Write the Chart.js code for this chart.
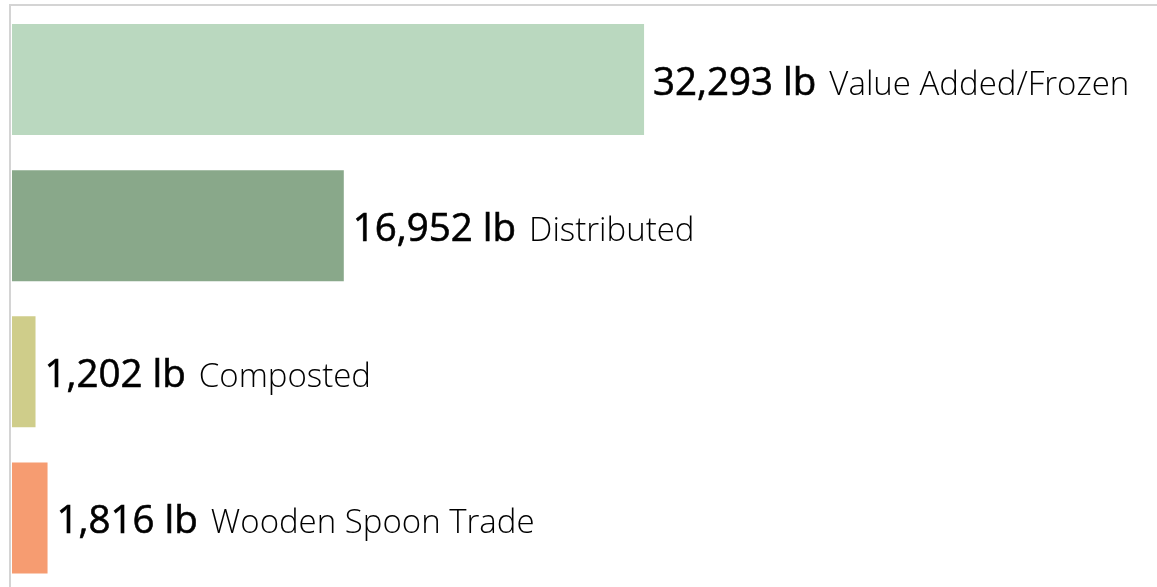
<!DOCTYPE html>
<html>
<head>
<meta charset="utf-8">
<script src="https://cdn.jsdelivr.net/npm/chart.js@4"></script>
<style>
    html, body { margin: 0; padding: 0; background: #fff; overflow: hidden; }
    #wrap { position: relative; width: 1157px; height: 591px; }
</style>
</head>
<body>
<div id="wrap"><canvas id="wasteChart"></canvas></div>
<script>
// Data hasil panen (lb)
const categories = ['Value Added/Frozen', 'Distributed', 'Composted', 'Wooden Spoon Trade'];
const pounds = [32293, 16952, 1202, 1816];
const barColors = ['#bad8bf', '#89a88a', '#cfcd8a', '#f69c71'];

// Garis tepi atas & kiri (gaya Tableau)
const framePlugin = {
    id: 'frame',
    beforeDatasetsDraw(chart) {
        const { ctx, chartArea } = chart;
        ctx.save();
        ctx.strokeStyle = '#d4d4d4';
        ctx.lineWidth = 2;
        ctx.beginPath();
        ctx.moveTo(chartArea.left - 3, chartArea.top - 1.5);
        ctx.lineTo(chart.width, chartArea.top - 1.5);
        ctx.moveTo(chartArea.left - 2, chartArea.top - 2.5);
        ctx.lineTo(chartArea.left - 2, chart.height);
        ctx.stroke();
        ctx.restore();
    }
};

// Label nilai + nama kategori di ujung bar
const labelPlugin = {
    id: 'barLabels',
    afterDatasetsDraw(chart) {
        const { ctx } = chart;
        const meta = chart.getDatasetMeta(0);
        ctx.save();
        ctx.textBaseline = 'alphabetic';
        ctx.textAlign = 'left';
        ctx.fillStyle = '#000';
        ctx.strokeStyle = '#000';
        ctx.lineWidth = 0.6;
        meta.data.forEach((bar, i) => {
            const numText = pounds[i].toLocaleString('en-US') + ' lb';
            const x = bar.x + 9;
            const y = bar.y + 15;
            // angka: regular + sedikit stroke supaya tampak "medium"
            ctx.font = '400 38.5px "Open Sans"';
            ctx.fillText(numText, x, y);
            ctx.strokeText(numText, x, y);
            const w = ctx.measureText(numText).width;
            ctx.font = '300 33px "Open Sans"';
            ctx.fillText(categories[i], x + w + 13, y);
        });
        ctx.restore();
    }
};

const canvas = document.getElementById('wasteChart');
try {
    window.wasteChart = new Chart(canvas, {
        type: 'bar',
        data: {
            labels: categories,
            datasets: [{
                data: pounds,
                backgroundColor: barColors,
                borderWidth: 0,
                barPercentage: 0.76,
                categoryPercentage: 1
            }]
        },
        options: {
            indexAxis: 'y',
            responsive: true,
            maintainAspectRatio: false,
            animation: false,
            layout: { padding: { left: 12, top: 6.5, right: 0, bottom: 0 } },
            plugins: {
                legend: { display: false },
                tooltip: { enabled: false },
                title: { display: false }
            },
            scales: {
                x: { display: false, min: 0, max: 58500 },
                y: { display: false }
            }
        },
        plugins: [framePlugin, labelPlugin]
    });
} catch (err) { console.error('Error rendering chart:', err); }
</script>
</body>
</html>
